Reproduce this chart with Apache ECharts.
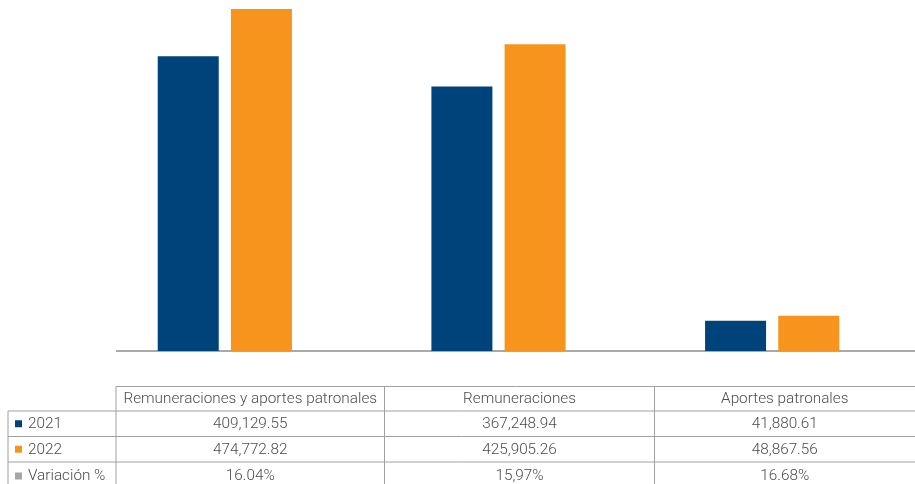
<!DOCTYPE html>
<html>
<head>
<meta charset="utf-8">
<script src="https://cdn.jsdelivr.net/npm/echarts@6/dist/echarts.min.js"></script>
<style>
  html, body { margin: 0; padding: 0; background: #fff; }
  #chart { width: 915px; height: 484px; }
</style>
</head>
<body>
<div id="chart"></div>
<script>
// datos
const categorias = ["Remuneraciones y aportes patronales", "Remuneraciones", "Aportes patronales"];
const valores2021 = [409129.55, 367248.94, 41880.61];
const valores2022 = [474772.82, 425905.26, 48867.56];
const variacion = ["16.04%", "15,97%", "16.68%"];
const filas = ["2021", "2022", "Variación %"];
const colores = ["#00437a", "#f7941d", "#a6a6a6"];

const fmt = (v) => v.toLocaleString("en-US", {minimumFractionDigits: 2, maximumFractionDigits: 2});

// geometria de la tabla
const colX = [8, 116, 384.5, 654.5, 915];
const rowY = [386.5, 411, 436.5, 462, 490];
const lineColor = "#a0a0a0";
const txtStyle = {fill: "#4d4d4d", font: "300 15.3px Roboto"};

const graphics = [];
// eje x
graphics.push({type: "line", shape: {x1: 116, y1: 351, x2: 915, y2: 351}, style: {stroke: "#8c8c8c", lineWidth: 1.5}});
// lineas horizontales
graphics.push({type: "line", shape: {x1: colX[1], y1: rowY[0], x2: 915, y2: rowY[0]}, style: {stroke: lineColor, lineWidth: 1}});
for (let r = 1; r < 4; r++) {
  graphics.push({type: "line", shape: {x1: colX[0], y1: rowY[r], x2: 915, y2: rowY[r]}, style: {stroke: lineColor, lineWidth: 1}});
}
// lineas verticales
graphics.push({type: "line", shape: {x1: colX[0], y1: rowY[1], x2: colX[0], y2: 484}, style: {stroke: lineColor, lineWidth: 1}});
for (let c = 1; c < 4; c++) {
  graphics.push({type: "line", shape: {x1: colX[c], y1: rowY[0], x2: colX[c], y2: 484}, style: {stroke: lineColor, lineWidth: 1}});
}
// encabezados
categorias.forEach((cat, i) => {
  graphics.push({type: "text", x: (colX[i + 1] + colX[i + 2]) / 2, y: (rowY[0] + rowY[1]) / 2 + 0.5,
    style: Object.assign({text: cat, textAlign: "center", textVerticalAlign: "middle"}, txtStyle)});
});
// filas
const celdas = [valores2021.map(fmt), valores2022.map(fmt), variacion];
filas.forEach((f, r) => {
  const cy = (rowY[r + 1] + rowY[r + 2]) / 2 + 0.5;
  graphics.push({type: "rect", shape: {x: 15, y: cy - 4, width: 7, height: 7}, style: {fill: colores[r]}});
  graphics.push({type: "text", x: 28, y: cy, style: Object.assign({text: f, textAlign: "left", textVerticalAlign: "middle"}, txtStyle)});
  celdas[r].forEach((v, c) => {
    graphics.push({type: "text", x: (colX[c + 1] + colX[c + 2]) / 2, y: cy,
      style: Object.assign({text: v, textAlign: "center", textVerticalAlign: "middle"}, txtStyle)});
  });
});

const chart = echarts.init(document.getElementById("chart"), null, {renderer: "canvas"});
const option = {
  animation: false,
  grid: {left: 88, right: 6, top: 9, bottom: 133},
  xAxis: {
    type: "category",
    data: categorias,
    axisLine: {show: false},
    axisTick: {show: false},
    axisLabel: {show: false}
  },
  yAxis: {
    type: "value",
    min: 0,
    max: (v) => v.max,
    show: false,
    splitLine: {show: false}
  },
  series: [
    {name: "2021", type: "bar", data: valores2021, barWidth: 61, barGap: "20%", itemStyle: {color: colores[0]}},
    {name: "2022", type: "bar", data: valores2022, barWidth: 61, barGap: "20%", itemStyle: {color: colores[1]}}
  ],
  graphic: graphics
};
chart.setOption(option);
</script>
</body>
</html>
